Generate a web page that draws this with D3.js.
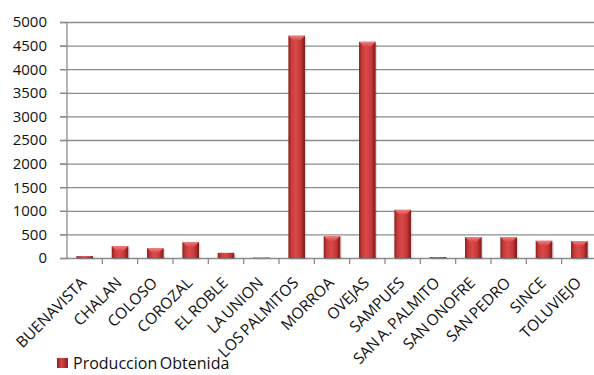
<!DOCTYPE html>
<html><head><meta charset="utf-8">
<script src="https://cdn.jsdelivr.net/npm/d3@7"></script>
<style>body{margin:0;background:#fff}svg{display:block}text{font-family:"Open Sans",sans-serif;fill:#111}</style>
</head><body>
<script>
const categories = ["BUENAVISTA","CHALAN","COLOSO","COROZAL","EL ROBLE","LA UNION","LOS PALMITOS","MORROA","OVEJAS","SAMPUES","SAN A. PALMITO","SAN ONOFRE","SAN PEDRO","SINCE","TOLUVIEJO"];
const values = [40, 250, 210, 340, 110, 10, 4710, 465, 4580, 1020, 20, 445, 445, 365, 360];
const yTicks = [0,500,1000,1500,2000,2500,3000,3500,4000,4500,5000];
const seriesName = "Produccion Obtenida";

const W = 594, H = 375;
const m = {left: 67, right: -3, top: 22, bottom: 117};
const svg = d3.select("body").append("svg").attr("width", W).attr("height", H);
const defs = svg.append("defs");
const g1 = defs.append("linearGradient").attr("id","barg").attr("x1","0").attr("x2","1").attr("y1","0").attr("y2","0");
[["0%","#8e1c1c"],["18%","#c63a3a"],["45%","#da4a4a"],["75%","#c63737"],["100%","#7d1717"]].forEach(([o,c])=>g1.append("stop").attr("offset",o).attr("stop-color",c));
const g2 = defs.append("linearGradient").attr("id","capg").attr("x1","0").attr("x2","0").attr("y1","0").attr("y2","1");
[["0%","#f08080"],["100%","#d44545"]].forEach(([o,c])=>g2.append("stop").attr("offset",o).attr("stop-color",c));
const lg = defs.append("linearGradient").attr("id","legg").attr("x1","0").attr("x2","1");
[["0%","#8e1c1c"],["40%","#d84848"],["100%","#8e1c1c"]].forEach(([o,c])=>lg.append("stop").attr("offset",o).attr("stop-color",c));

const x = d3.scaleBand().domain(categories).range([m.left, W - m.right]).paddingInner(0.53).paddingOuter(0.265);
const xb = d3.scaleBand().domain(categories).range([m.left, W - m.right]);
const y = d3.scaleLinear().domain([0,5000]).range([H - m.bottom, m.top]);

// gridlines
svg.append("g").selectAll("line").data(yTicks.filter(d=>d>0)).join("line")
  .attr("x1", 60).attr("x2", W).attr("y1", d=>y(d)+0.5).attr("y2", d=>y(d)+0.5)
  .attr("stroke","#8c8c8c").attr("stroke-width",1.3);

// y axis
const ya = svg.append("g").attr("transform",`translate(${m.left},0)`)
  .call(d3.axisLeft(y).tickValues(yTicks).tickFormat(d3.format("d")).tickSize(7).tickPadding(13));
ya.select(".domain").attr("stroke","#8c8c8c").attr("stroke-width",1.3).attr("d",`M-7,${y(0)+0.5}H0V${y(5000)}`);
ya.selectAll(".tick line").attr("stroke","#8c8c8c").attr("stroke-width",1.3);
ya.selectAll(".tick text").style("font-size","15px").style("font-family","'Open Sans', sans-serif").attr("fill","#111");

// bottom axis line and boundary ticks
svg.append("line").attr("x1",m.left).attr("x2",W).attr("y1",y(0)+0.5).attr("y2",y(0)+0.5).attr("stroke","#8c8c8c").attr("stroke-width",1.3);
svg.append("g").selectAll("line").data(categories).join("line")
  .attr("x1",d=>xb(d)+xb.bandwidth()).attr("x2",d=>xb(d)+xb.bandwidth())
  .attr("y1",y(0)).attr("y2",y(0)+6).attr("stroke","#8c8c8c").attr("stroke-width",1.3);

// bars
const bars = svg.append("g").selectAll("g").data(categories.map((c,i)=>({c,v:values[i]}))).join("g");
bars.append("rect").attr("x",d=>x(d.c)+1.5).attr("y",d=>y(d.v)+1.5).attr("width",x.bandwidth()).attr("height",d=>y(0)-y(d.v))
  .attr("fill","#000").attr("opacity",0.12);
bars.append("rect").attr("x",d=>x(d.c)).attr("y",d=>y(d.v)).attr("width",x.bandwidth()).attr("height",d=>y(0)-y(d.v))
  .attr("fill","url(#barg)");
bars.filter(d=>y(0)-y(d.v)>6).append("path")
  .attr("d",d=>{const x0=x(d.c),w=x.bandwidth(),t=y(d.v),h=Math.min(5,(y(0)-y(d.v))/2);
    return `M${x0},${t}H${x0+w}L${x0+w*0.68},${t+h}H${x0+w*0.32}Z`;})
  .attr("fill","url(#capg)");

// x labels
svg.append("g").selectAll("text").data(categories).join("text")
  .attr("transform",d=>`translate(${xb(d)+xb.bandwidth()/2-1},${y(0)+22}) rotate(-45)`)
  .attr("text-anchor","end").attr("dy","0.35em")
  .style("font-size","15.5px").style("word-spacing","-1.6px").text(d=>d);

// legend
svg.append("rect").attr("x",57).attr("y",358).attr("width",11).attr("height",10).attr("fill","url(#legg)");
svg.append("text").attr("x",73).attr("y",369).style("font-size","16px").style("word-spacing","-1.5px").text(seriesName);
</script>
</body></html>
